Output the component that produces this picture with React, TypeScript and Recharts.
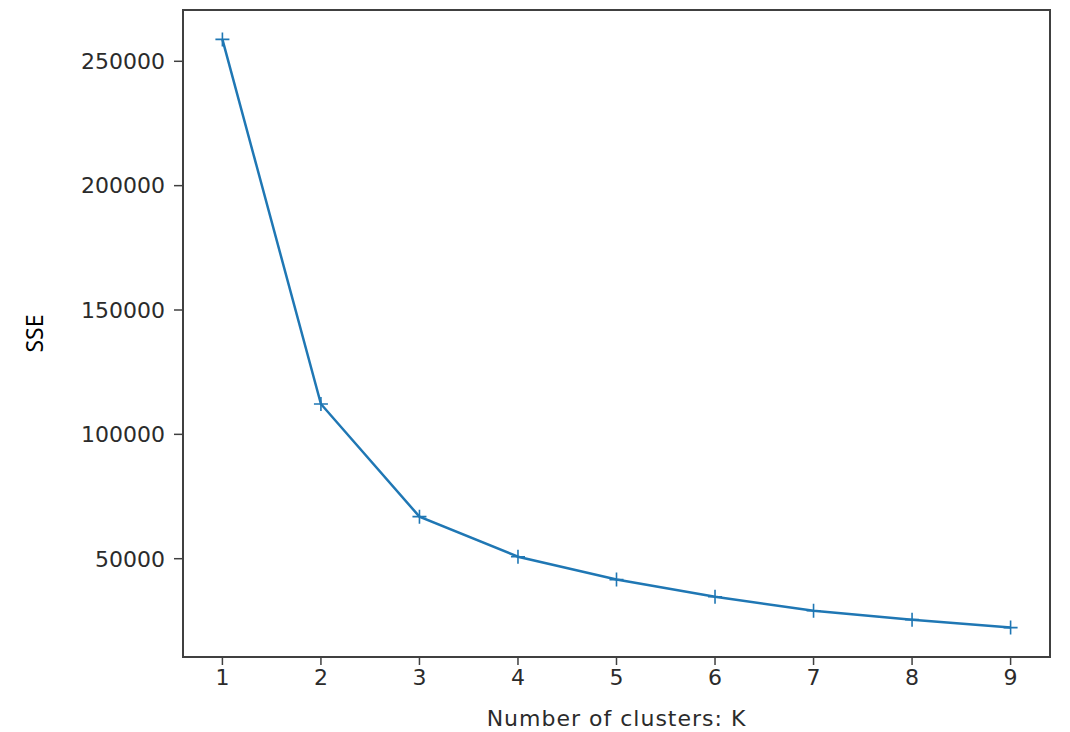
import { Label, Line, LineChart, ReferenceArea, XAxis, YAxis } from "recharts";

const clusters = [1, 2, 3, 4, 5, 6, 7, 8, 9];
const sse = [258800, 112200, 66900, 50800, 41600, 34700, 29100, 25500, 22300];
const xTicks = [1, 2, 3, 4, 5, 6, 7, 8, 9];
const yTicks = [50000, 100000, 150000, 200000, 250000];
const xDomain: [number, number] = [0.6, 9.4];
const yDomain: [number, number] = [10475, 270625];

const data = clusters.map((k, i) => ({ k, sse: sse[i] }));

const BLUE = "#1f77b4";
const INK = "#2b2b2b";
const SPINE = "#404040";
const tickFont = { fill: INK, fontSize: 22, fontFamily: "DejaVu Sans" };

const PlusDot = (p: any) => {
  const { cx, cy } = p;
  if (cx == null || cy == null) return null;
  return (
    <path
      key={`d-${cx}`}
      d={`M${cx - 7},${cy}H${cx + 7}M${cx},${cy - 7}V${cy + 7}`}
      stroke={BLUE}
      strokeWidth={1.6}
      fill="none"
    />
  );
};

export default function App() {
  return (
    <div style={{ position: "absolute", left: 0, top: 0, background: "#fff" }}>
      <LineChart width={1070} height={732} data={data} margin={{ top: 10, right: 20, left: 0, bottom: 0 }}>
        <XAxis
          dataKey="k"
          type="number"
          domain={xDomain}
          ticks={xTicks}
          allowDataOverflow
          height={75}
          tick={tickFont}
          tickSize={8}
          tickMargin={4}
          tickLine={{ stroke: SPINE, strokeWidth: 1.5 }}
          axisLine={{ stroke: SPINE, strokeWidth: 2 }}
        >
          <Label
            value="Number of clusters: K"
            position="insideBottom"
            offset={6}
            style={{ fill: INK, fontSize: 22, letterSpacing: 1, fontFamily: "DejaVu Sans" }}
          />
        </XAxis>
        <YAxis
          type="number"
          domain={yDomain}
          ticks={yTicks}
          allowDataOverflow
          width={183}
          tick={tickFont}
          tickSize={9}
          tickMargin={9}
          tickLine={{ stroke: SPINE, strokeWidth: 1.5 }}
          axisLine={{ stroke: SPINE, strokeWidth: 2 }}
        >
          <Label
            content={({ viewBox }: any) => {
              const cy = viewBox.y + viewBox.height / 2;
              return (
                <text
                  x={34}
                  y={cy}
                  transform={`rotate(-90, 34, ${cy})`}
                  textAnchor="middle"
                  dominantBaseline="central"
                  style={{ fill: "#000", fontSize: 23, fontFamily: "Noto Sans" }}
                >
                  SSE
                </text>
              );
            }}
          />
        </YAxis>
        <ReferenceArea
          x1={xDomain[0]}
          x2={xDomain[1]}
          y1={yDomain[0]}
          y2={yDomain[1]}
          fill="none"
          stroke={SPINE}
          strokeWidth={2}
        />
        <Line
          type="linear"
          dataKey="sse"
          stroke={BLUE}
          strokeWidth={2.5}
          dot={PlusDot}
          activeDot={false}
          isAnimationActive={false}
        />
      </LineChart>
    </div>
  );
}
